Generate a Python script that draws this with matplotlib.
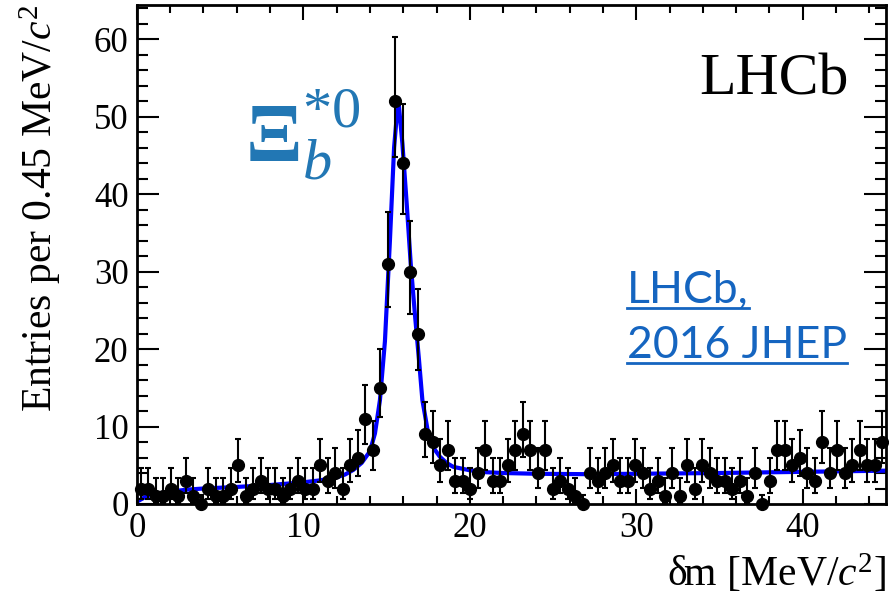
import math
import numpy as np
import matplotlib
matplotlib.use('Agg')
import matplotlib.pyplot as plt
from matplotlib.lines import Line2D
from matplotlib.ticker import MultipleLocator

plt.rcParams['font.family'] = ['Liberation Serif', 'DejaVu Serif']
plt.rcParams['mathtext.fontset'] = 'custom'
plt.rcParams['mathtext.rm'] = 'Liberation Serif'
plt.rcParams['mathtext.it'] = 'Liberation Serif:italic'
plt.rcParams['mathtext.bf'] = 'Liberation Serif:bold'

# entries per 0.45 MeV bin, 0 - 45 MeV
bin_width = 0.45
counts = [2, 2, 1, 1, 2, 1, 3, 1, 0, 2,
          1, 1, 2, 5, 1, 2, 3, 2, 2, 1,
          2, 3, 2, 2, 5, 3, 4, 2, 5, 6,
          11, 7, 15, 31, 52, 44, 30, 22, 9, 8,
          5, 7, 3, 3, 2, 4, 7, 3, 3, 5,
          7, 9, 7, 4, 7, 2, 3, 2, 1, 0,
          4, 3, 4, 5, 3, 3, 5, 4, 2, 3,
          1, 4, 1, 5, 2, 5, 4, 3, 3, 2,
          3, 1, 4, 0, 3, 7, 7, 5, 6, 4,
          3, 8, 4, 7, 4, 5, 7, 5, 5, 8]

# fit curve
fit_x = [0, 0.25, 0.5, 1, 2, 3, 4, 6, 8, 10, 11, 12, 12.5, 13, 13.5, 14,
         14.3, 14.6, 14.9, 15.2, 15.45, 15.7, 15.95, 16.2, 16.45, 16.7,
         16.95, 17.15, 17.5, 17.9, 18.2, 18.6, 19, 20, 21, 22, 24, 27,
         30, 35, 40, 45]
fit_y = [0.3, 0.6, 0.9, 1.25, 1.6, 1.85, 2.0, 2.2, 2.45, 2.8, 3.05, 3.45,
         3.8, 4.4, 5.3, 6.8, 9.1, 13.4, 21, 34, 46, 52.3, 46.5, 39, 31,
         24.5, 18.5, 13.4, 9.1, 7.0, 6.1, 5.3, 4.8, 4.35, 4.1, 4.0, 3.9,
         3.85, 3.9, 4.0, 4.15, 4.3]

centers = bin_width * (np.arange(len(counts)) + 0.5)


def pois_cdf(k, mu):
    return sum(math.exp(-mu + i * math.log(mu) - math.lgamma(i + 1)) for i in range(k + 1))


def pois_err(n):
    # central 68% poisson interval (zero bins: one sided)
    alpha = (1 - 0.682689) / 2
    if n == 0:
        return 0.0, -math.log(1 - 0.682689)
    lo_a, lo_b = 1e-9, float(n)
    for _ in range(60):
        m = 0.5 * (lo_a + lo_b)
        if pois_cdf(n - 1, m) > 1 - alpha:
            lo_a = m
        else:
            lo_b = m
    hi_a, hi_b = float(n), n + 10 * math.sqrt(n) + 10
    for _ in range(60):
        m = 0.5 * (hi_a + hi_b)
        if pois_cdf(n, m) > alpha:
            hi_a = m
        else:
            hi_b = m
    return n - lo_a, hi_a - n


errs = [pois_err(n) for n in counts]
err_lo = [e[0] for e in errs]
err_hi = [e[1] for e in errs]

fig = plt.figure(figsize=(8.89, 6.01), dpi=100)
ax = fig.add_axes([0.154, 0.1614, 0.8426, 0.8303])

ax.plot(fit_x, fit_y, color='blue', lw=3, zorder=2)
ax.errorbar(centers, counts, yerr=[err_lo, err_hi], fmt='o', color='black',
            ms=8.5, elinewidth=1.5, capsize=1.9, capthick=1.5, zorder=3, clip_on=False)

ax.set_xlim(0, 45)
ax.set_ylim(0, 64.4)
ax.xaxis.set_major_locator(MultipleLocator(10))
ax.xaxis.set_minor_locator(MultipleLocator(2))
ax.yaxis.set_major_locator(MultipleLocator(10))
ax.yaxis.set_minor_locator(MultipleLocator(2))
ax.tick_params(which='both', direction='in', top=True, right=True, width=1.5, labelsize=25)
ax.tick_params(axis='x', which='major', length=11, pad=6)
ax.tick_params(axis='x', which='minor', length=5.5)
ax.tick_params(axis='y', which='major', length=16, pad=6)
ax.tick_params(axis='y', which='minor', length=8)
for s in ax.spines.values():
    s.set_linewidth(2)

ax.set_xlabel(r'δm [MeV/$c^2$]', fontsize=30, loc='right')
ax.xaxis.set_label_coords(1.0, -0.097)
ax.set_ylabel(r'Entries per 0.45 MeV/$c^2$', fontsize=30, loc='top')
ax.yaxis.set_label_coords(-0.098, 1.0)

ax.text(42.75, 52.8, 'LHCb', fontsize=43, ha='right', va='baseline')
ax.text(6.5, 44.3, r'$\mathbf{\Xi}_b^{*0}$', fontsize=60, color='#2277b4', va='baseline')

link_color = '#1565c0'
t1 = ax.text(29.45, 25.9, 'LHCb,', fontsize=32, family='Lato', color=link_color, va='baseline')
t2 = ax.text(29.45, 18.8, '2016 JHEP', fontsize=32, family='Lato', color=link_color, va='baseline')

# underline the link text
fig.canvas.draw()
r = fig.canvas.get_renderer()
for t in [t1, t2]:
    bb = t.get_window_extent(r)
    base = ax.transData.transform(t.get_position())[1] - 5
    x0, x1 = bb.x0 / fig.bbox.width, bb.x1 / fig.bbox.width
    yy = base / fig.bbox.height
    fig.add_artist(Line2D([x0, x1], [yy, yy], color=link_color, lw=2, transform=fig.transFigure))

fig.savefig('out.png', dpi=100)
